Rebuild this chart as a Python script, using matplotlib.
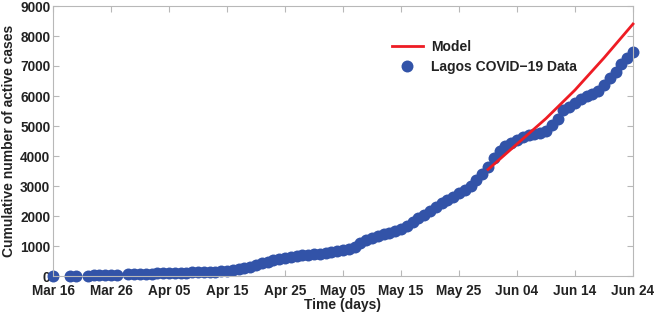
import matplotlib
matplotlib.use("Agg")
import matplotlib.pyplot as plt
import numpy as np

plt.rcParams['font.family'] = ['Liberation Sans', 'DejaVu Sans']
plt.rcParams['font.weight'] = 'bold'

# day index from Mar 16 (day 0)
data_days = [0, 3, 4, 6, 7, 8, 9, 10, 11] + list(range(13, 101))
data_vals = [1, 5, 8, 15, 20, 30, 35, 40, 45,
             60, 65, 70, 75, 80, 85, 90, 95, 100, 110,
             115, 120, 125, 130, 140, 150, 160, 180, 200, 240,
             280, 300, 360, 420, 470, 520, 560, 590, 620, 660,
             690, 710, 730, 750, 770, 790, 820, 860, 900, 960,
             1100, 1200, 1280, 1340, 1400, 1450, 1500, 1560, 1680, 1800,
             1920, 2050, 2180, 2300, 2420, 2530, 2640, 2760, 2880, 3000,
             3200, 3400, 3620, 3950, 4180, 4330, 4450, 4550, 4640, 4700,
             4730, 4760, 4850, 5050, 5250, 5530, 5650, 5780, 5900, 6000,
             6080, 6150, 6350, 6600, 6800, 7050, 7250, 7450]

model_days = [75, 80, 85, 90, 95, 100]
model_vals = [3550, 4400, 5250, 6200, 7270, 8400]

tick_days = [0, 10, 20, 30, 40, 50, 60, 70, 80, 90, 100]
tick_labels = ['Mar 16', 'Mar 26', 'Apr 05', 'Apr 15', 'Apr 25', 'May 05',
               'May 15', 'May 25', 'Jun 04', 'Jun 14', 'Jun 24']
y_ticks = [0, 1000, 2000, 3000, 4000, 5000, 6000, 7000, 8000, 9000]

fig = plt.figure(figsize=(6.56, 3.15), dpi=100)
ax = fig.add_axes([53/656, 39/315, 580/656, 270/315])

ax.plot(data_days, data_vals, 'o', color='#3253A8', markersize=8.6,
        markeredgewidth=0, label='Lagos COVID\u221219 Data', zorder=2,
        clip_on=False)
ax.plot(model_days, model_vals, '-', color='#EE1C24', linewidth=2.0,
        label='Model', zorder=3, clip_on=False)

ax.set_xlim(0, 100)
ax.set_ylim(0, 9000)
ax.set_xticks(tick_days)
ax.set_xticklabels(tick_labels)
ax.set_yticks(y_ticks)
ax.tick_params(direction='in', length=4, width=0.8, color='#B8B8B8',
               top=True, right=True, labelsize=9.8, pad=2, labelcolor='#222222')
ax.tick_params(axis='x', pad=6)
for lab in ax.get_xticklabels() + ax.get_yticklabels():
    lab.set_fontweight('bold')
for s in ax.spines.values():
    s.set_color('#B8B8B8')
    s.set_linewidth(0.8)

ax.set_xlabel('Time (days)', fontsize=10, fontweight='bold', labelpad=0, color='#222222')
ax.set_ylabel('Cumulative number of active cases', fontsize=10, fontweight='bold',
              labelpad=3, color='#222222')

h, l = ax.get_legend_handles_labels()
leg = ax.legend([h[1], h[0]], [l[1], l[0]], loc='upper left',
                bbox_to_anchor=(0.575, 0.895), frameon=False,
                prop={'weight': 'bold', 'size': 10}, handlelength=2.2,
                labelspacing=0.45, borderaxespad=0, handletextpad=0.6)
for t in leg.get_texts():
    t.set_color('#222222')

fig.savefig('out.png', dpi=100)
